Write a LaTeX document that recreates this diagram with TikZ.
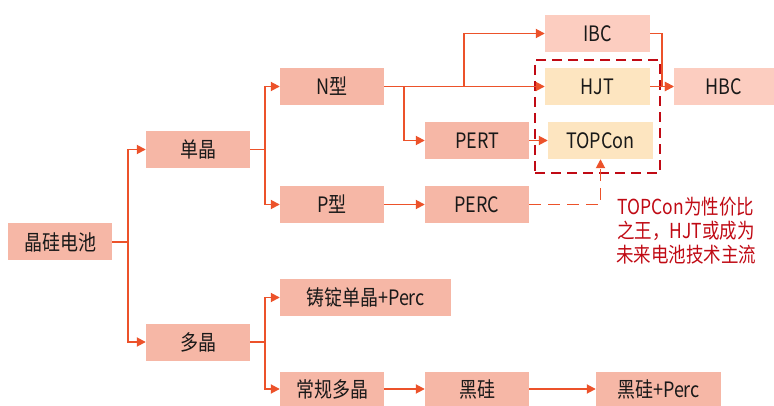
\documentclass[tikz,border=0pt]{standalone}
\usepackage{fontspec}
\usepackage{graphicx}
\setmainfont{Noto Sans CJK SC}
\usetikzlibrary{arrows.meta}
\definecolor{boxc}{RGB}{246,183,166}
\definecolor{lightc}{RGB}{252,205,192}
\definecolor{yelc}{RGB}{253,229,192}
\definecolor{linec}{RGB}{236,82,42}
\definecolor{redc}{RGB}{192,10,20}
\definecolor{txtc}{RGB}{25,25,25}
\newcommand{\vs}[1]{\scalebox{1}[1.18]{#1}}
\begin{document}
\begin{tikzpicture}[x=1pt,y=-1pt,
  bx/.style={fill=boxc, draw=none, minimum width=104pt, minimum height=37pt, inner sep=0pt, text=txtc, font=\fontsize{18}{20}\selectfont},
  arr/.style={draw=linec, line width=1.8pt, -{Triangle[length=9pt,width=9pt]}},
  darr/.style={arr, dash pattern=on 12pt off 7pt},
  grpbox/.style={draw=redc, line width=2.4pt, dash pattern=on 10pt off 6pt, minimum width=125pt, minimum height=113pt, inner sep=0pt}]
\useasboundingbox (0,0) rectangle (774,406);
% nodes
\node[bx] (root) at (60,242) {\vs{晶硅电池}};
\node[bx] (dan) at (198,149.5) {\vs{单晶}};
\node[bx] (duo) at (198,342) {\vs{多晶}};
\node[bx] (n) at (332,86.5) {\vs{N型}};
\node[bx] (p) at (332,204.5) {\vs{P型}};
\node[bx] (pert) at (477,140.5) {\vs{PERT}};
\node[bx] (perc) at (477,204.5) {\vs{PERC}};
\node[bx, fill=lightc, minimum width=105pt] (ibc) at (597.5,33.5) {\vs{IBC}};
\node[bx, fill=yelc, minimum width=105pt] (hjt) at (597.5,86.5) {\vs{HJT}};
\node[bx, fill=yelc, minimum width=105pt] (top) at (600.5,140.5) {\vs{TOPCon}};
\node[bx, fill=lightc, minimum width=100pt] (hbc) at (724,86.5) {\vs{HBC}};
\node[bx, minimum width=171pt] (zhu) at (365.5,297.5) {\vs{铸锭单晶+Perc}};
\node[bx, minimum height=35pt] (cg) at (332,389) {\vs{常规多晶}};
\node[bx, minimum height=35pt] (hg) at (477,389) {\vs{黑硅}};
\node[bx, minimum height=35pt, minimum width=125pt] (hgp) at (658.5,389) {\vs{黑硅+Perc}};
\node[grpbox] (grp) at (597.5,116.5) {};
\node[text=redc, font=\fontsize{17.5}{18}\selectfont, inner sep=0pt] (note) at (686,233)
  {\vs{\begin{tabular}{@{}c@{}}TOPCon为性价比\\之王，HJT或成为\\未来电池技术主流\end{tabular}}};
% connectors
\draw[arr] (root.east) -- ++(16,0) |- (dan.west);
\draw[arr] (root.east) -- ++(16,0) |- (duo.west);
\draw[arr] (dan.east) -- ++(15,0) |- (n.west);
\draw[arr] (dan.east) -- ++(15,0) |- (p.west);
\draw[arr] (n.east) -- (hjt.west);
\draw[arr] (n.east) -- ++(20,0) |- (pert.west);
\draw[arr] (n.east) -- ++(80,0) |- (ibc.west);
\draw[arr] (pert.east) -- (top.west);
\draw[arr] (p.east) -- (perc.west);
\draw[darr] (perc.east) -| (top.south);
\draw[arr] (ibc.east) -- ++(12,0) |- (hbc.west);
\draw[arr] (hjt.east) -- (hbc.west);
\draw[arr] (duo.east) -- ++(15,0) |- (zhu.west);
\draw[arr] (duo.east) -- ++(15,0) |- (cg.west);
\draw[arr] (cg.east) -- (hg.west);
\draw[arr] (hg.east) -- (hgp.west);
\end{tikzpicture}
\end{document}
